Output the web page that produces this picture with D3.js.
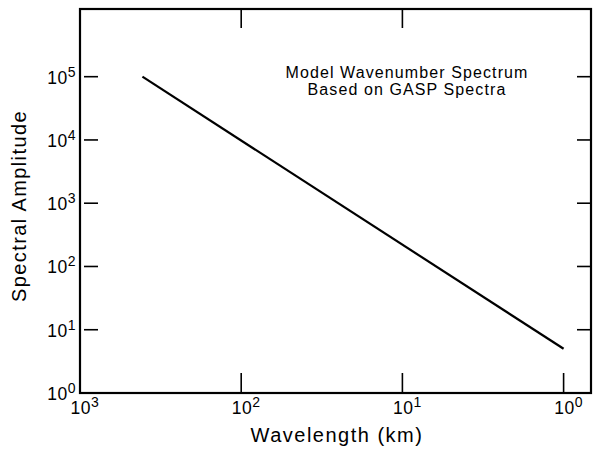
<!DOCTYPE html>
<html><head><meta charset="utf-8">
<script src="https://cdn.jsdelivr.net/npm/d3@7"></script>
<style>
body{margin:0;background:#fff;}
text{font-family:"Liberation Sans",Arial,Helvetica,sans-serif;fill:#000;}
</style></head>
<body><svg id="c" width="594" height="452"></svg>
<script>
// Data
const wavelengthKm = [410, 1];
const spectralAmplitude = [1.0e5, 5];
const xTickExps = [3, 2, 1, 0];
const yTickExps = [0, 1, 2, 3, 4, 5];
const titleLines = ["Model Wavenumber Spectrum", "Based on GASP Spectra"];
const xLabel = "Wavelength (km)";
const yLabel = "Spectral Amplitude";

const svg = d3.select("#c");
const L = 80, R = 591, T = 9, B = 393;
const x = d3.scaleLog().domain([1000, Math.pow(10, -0.17)]).range([L, R]);
const y = d3.scaleLog().domain([1, Math.pow(10, 6.07)]).range([B, T]);

// frame
svg.append("rect").attr("x", L).attr("y", T).attr("width", R - L).attr("height", B - T)
  .attr("fill", "none").attr("stroke", "#000").attr("stroke-width", 2.2);

// ticks inside
const g = svg.append("g").attr("stroke", "#000").attr("stroke-width", 1.6);
yTickExps.filter(e => e > 0).forEach(e => {
  const yy = y(Math.pow(10, e));
  g.append("line").attr("x1", L + 4).attr("x2", L + 18).attr("y1", yy).attr("y2", yy);
  g.append("line").attr("x1", R - 14).attr("x2", R).attr("y1", yy).attr("y2", yy);
});
xTickExps.filter(e => e < 3).forEach(e => {
  const xx = x(Math.pow(10, e));
  g.append("line").attr("x1", xx).attr("x2", xx).attr("y1", B).attr("y2", B - 20);
  if (e > 0) g.append("line").attr("x1", xx).attr("x2", xx).attr("y1", T).attr("y2", T + 19);
});

function powLabel(sel, e, xx, yy, anchor) {
  const t = sel.append("text").attr("x", xx).attr("y", yy).attr("text-anchor", anchor)
    .attr("font-size", 17.5).attr("letter-spacing", 0.5);
  t.append("tspan").text("10");
  t.append("tspan").attr("dy", -7).attr("font-size", 14).text(e);
  return t;
}
yTickExps.forEach(e => {
  powLabel(svg, e, 76, y(Math.pow(10, e)) + 7, "end");
});
xTickExps.forEach(e => {
  powLabel(svg, e, x(Math.pow(10, e)) + 5, 414, "middle");
});

// axis titles
svg.append("text").attr("x", 337).attr("y", 442).attr("text-anchor", "middle")
  .attr("font-size", 20).attr("letter-spacing", 1.5).text(xLabel);
svg.append("text").attr("transform", "translate(26,206) rotate(-90)").attr("text-anchor", "middle")
  .attr("font-size", 20).attr("letter-spacing", 1.4).text(yLabel);

// annotation
titleLines.forEach((s, i) => {
  svg.append("text").attr("x", 407).attr("y", 78 + i * 16.5).attr("text-anchor", "middle")
    .attr("font-size", 16).attr("letter-spacing", 1.1).text(s);
});

// line
const pts = wavelengthKm.map((w, i) => [w, spectralAmplitude[i]]);
svg.append("path").datum(pts)
  .attr("d", d3.line().x(d => x(d[0])).y(d => y(d[1])))
  .attr("fill", "none").attr("stroke", "#000").attr("stroke-width", 2.2);
</script></body></html>
